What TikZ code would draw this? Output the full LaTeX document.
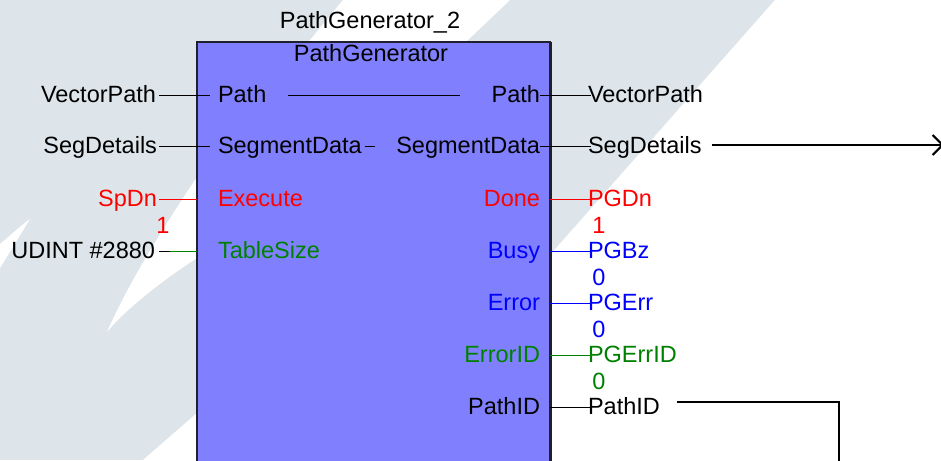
\documentclass[tikz,border=0pt]{standalone}
\usepackage{fontspec}
\setmainfont{Liberation Sans}
\usetikzlibrary{arrows.meta}

\definecolor{bggrey}{RGB}{222,229,234}
\definecolor{fbfill}{RGB}{128,128,255}
\definecolor{fbedge}{RGB}{32,32,44}
\definecolor{sigred}{RGB}{255,0,0}
\definecolor{sigblue}{RGB}{0,0,255}
\definecolor{siggreen}{RGB}{0,128,0}

\tikzset{
  lbl/.style={inner sep=0pt, outer sep=0pt, text height=14pt, text depth=0pt,
              font=\fontsize{23.5}{28}\selectfont},
  fbbox/.style={draw=fbedge, line width=1.6pt, fill=fbfill, inner sep=0pt, outer sep=0pt},
  pin/.style={line width=1pt},
  wire/.style={line width=2pt},
}

\begin{document}
\begin{tikzpicture}[x=1pt,y=-1pt]
\useasboundingbox (0,0) rectangle (941,460);

% backdrop with light swooshes
\fill[bggrey] (0,0) rectangle (941,460);
\fill[white] (775,0) -- (941,0) -- (941,460) -- (369,460) -- cycle;
\fill[white] (343,0) -- (510,0) -- (300,200) -- (197,258)
   .. controls (160,282) and (125,310) .. (107,332)
   .. controls (130,280) and (165,225) .. (197,177) -- cycle;
\fill[white] (197,413) -- (260,413) -- (260,460) -- (143,460) -- cycle;
\fill[white] (0,244) .. controls (10,236) and (20,226) .. (30,219)
   .. controls (20,235) and (10,252) .. (0,268) -- cycle;

% function block, with the heavier shaded right edge
\node[fbbox, anchor=north west, minimum width=353pt, minimum height=440pt] (fb) at (197,42) {};
\draw[fbedge, line width=2.6pt] ([xshift=0.5pt]fb.north east) -- ([xshift=0.5pt]fb.south east);
\node[lbl, anchor=base] (inst) at (370,29) {PathGenerator\_2};
\node[lbl, anchor=base] (ftype) at (371,62) {PathGenerator};

% left-hand operands
\node[lbl, anchor=east] (vpin)  at (156,95)  {VectorPath};
\node[lbl, anchor=east] (segin) at (157,146) {SegDetails};
\node[lbl, anchor=east, text=sigred] (spdn) at (157,199) {SpDn};
\node[lbl, text=sigred] (spdnval) at (163,226) {1};
\node[lbl, anchor=east] (udint) at (155,251) {UDINT \#2880};

% block inputs
\node[lbl, anchor=west] (iPath) at (218,95)  {Path};
\node[lbl, anchor=west] (iSeg)  at (218,146) {SegmentData};
\node[lbl, anchor=west, text=sigred]   (iExec) at (218,199) {Execute};
\node[lbl, anchor=west, text=siggreen] (iTab)  at (218,251) {TableSize};

% block outputs
\node[lbl, anchor=east] (oPath) at (540,95)  {Path};
\node[lbl, anchor=east] (oSeg)  at (540,146) {SegmentData};
\node[lbl, anchor=east, text=sigred]   (oDone) at (540,199) {Done};
\node[lbl, anchor=east, text=sigblue]  (oBusy) at (540,251) {Busy};
\node[lbl, anchor=east, text=sigblue]  (oErr)  at (540,303) {Error};
\node[lbl, anchor=east, text=siggreen] (oEid)  at (540,355) {ErrorID};
\node[lbl, anchor=east] (oPid) at (540,407) {PathID};

% right-hand tags
\node[lbl, anchor=west] (vpout)  at (588,95)  {VectorPath};
\node[lbl, anchor=west] (segout) at (588,146) {SegDetails};
\node[lbl, anchor=west, text=sigred]   (pgdn)  at (588,199) {PGDn};
\node[lbl, anchor=west, text=sigblue]  (pgbz)  at (588,251) {PGBz};
\node[lbl, anchor=west, text=sigblue]  (pgerr) at (588,303) {PGErr};
\node[lbl, anchor=west, text=siggreen] (pgeid) at (588,355) {PGErrID};
\node[lbl, anchor=west] (pid) at (588,407) {PathID};
\node[lbl, text=sigred]   (pgdnval)  at (599,226) {1};
\node[lbl, text=sigblue]  (pgbzval)  at (599,278) {0};
\node[lbl, text=sigblue]  (pgerrval) at (599,330) {0};
\node[lbl, text=siggreen] (pgeidval) at (599,382) {0};

% input pins
\coordinate (stubPath) at (210,95);
\coordinate (stubSeg)  at (210,146);
\draw[pin] ([xshift=3pt]vpin.east) -- (stubPath);
\draw[pin] ([xshift=2pt]segin.east) -- (stubSeg);
\draw[pin, sigred] ([xshift=2pt]spdn.east) -- (fb.west |- spdn.east);
\draw[pin] ([xshift=4pt]udint.east) -- ++(11,0) coordinate (tsJoin);
\draw[pin, siggreen] (tsJoin) -- (fb.west |- udint.east);

% in-out pass-through marks
\draw[pin] ([xshift=22pt]iPath.east) -- ([xshift=-32pt]oPath.west);
\draw[pin] ([xshift=3pt]iSeg.east) -- ([xshift=13pt]iSeg.east);

% output pins
\draw[pin] (oPath.east) -- ([xshift=3pt]vpout.west);
\draw[pin] (oSeg.east) -- ([xshift=3pt]segout.west);
\draw[pin, sigred]   (fb.east |- oDone.east) -- ([xshift=4pt]pgdn.west);
\draw[pin, sigblue]  (fb.east |- oBusy.east) -- ([xshift=4pt]pgbz.west);
\draw[pin, sigblue]  (fb.east |- oErr.east)  -- ([xshift=4pt]pgerr.west);
\draw[pin, siggreen] (fb.east |- oEid.east)  -- ([xshift=4pt]pgeid.west);
\draw[pin] (fb.east |- oPid.east) -- ([xshift=4pt]pid.west);

% outgoing wires
\coordinate (segTarget) at (944,145);
\coordinate (pidDrop) at (839,472);
\draw[wire, -{Straight Barb[length=10pt,width=20pt,line width=2pt]}]
  ([shift={(10pt,1pt)}]segout.east) -- (segTarget);
\draw[wire] ([shift={(17pt,5pt)}]pid.east) -| (pidDrop);
\end{tikzpicture}
\end{document}
